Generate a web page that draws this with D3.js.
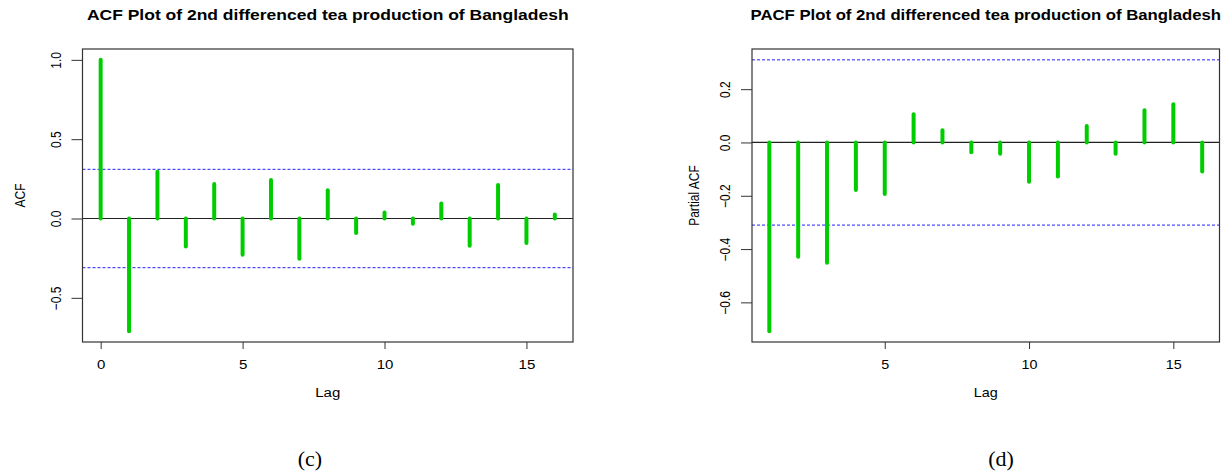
<!DOCTYPE html>
<html>
<head>
<meta charset="utf-8">
<script src="https://cdn.jsdelivr.net/npm/d3@7"></script>
<style>
  body { margin: 0; background: #fff; }
</style>
</head>
<body>
<div id="chart"></div>
<script>
// data
const acfLags   = [0, 1, 2, 3, 4, 5, 6, 7, 8, 9, 10, 11, 12, 13, 14, 15, 16];
const acfValues = [1.0, -0.71, 0.295, -0.176, 0.218, -0.228, 0.243, -0.253, 0.178,
                   -0.092, 0.038, -0.033, 0.094, -0.172, 0.211, -0.155, 0.025];

const pacfLags   = [1, 2, 3, 4, 5, 6, 7, 8, 9, 10, 11, 12, 13, 14, 15, 16];
const pacfValues = [-0.708, -0.429, -0.451, -0.178, -0.193, 0.106, 0.046, -0.037,
                    -0.042, -0.147, -0.128, 0.062, -0.042, 0.121, 0.143, -0.109];

const confLimit = 0.31;   // 1.96 / sqrt(n)

const acfXTicks  = [0, 5, 10, 15];
const acfYTicks  = [-0.5, 0.0, 0.5, 1.0];
const pacfXTicks = [5, 10, 15];
const pacfYTicks = [-0.6, -0.4, -0.2, 0.0, 0.2];

const SANS  = "'Liberation Sans', Arial, sans-serif";
const SERIF = "'Liberation Serif', 'Times New Roman', serif";

class CorrPlot {
  constructor(config) {
    this.config = {
      svg: config.svg,
      left: config.left, right: config.right,
      top: config.top || 49, bottom: config.bottom || 342,
      stretch: config.stretch || 1,        // the figure is widened horizontally
      title: config.title, ylabel: config.ylabel, ylabelOffset: config.ylabelOffset,
      caption: config.caption, captionX: config.captionX,
      xticks: config.xticks, yticks: config.yticks
    };
    this.init();
  }

  init() {
    const c = this.config, s = c.stretch;
    this.g = c.svg.append("g");
    this.xscale = d3.scaleLinear().range([c.left, c.right]);
    this.yscale = d3.scaleLinear().range([c.bottom, c.top]);

    const cx = (c.left + c.right) / 2;

    // title
    this.g.append("text")
      .attr("transform", `translate(${cx},20) scale(${s},1)`)
      .attr("text-anchor", "middle")
      .style("font-family", SANS)
      .style("font-size", "14px")
      .style("font-weight", "bold")
      .text(c.title);

    // x label
    this.g.append("text")
      .attr("transform", `translate(${cx},397) scale(${s},1)`)
      .attr("text-anchor", "middle")
      .style("font-family", SANS)
      .style("font-size", "12px")
      .text("Lag");

    // y label
    this.g.append("text")
      .attr("transform", `translate(${c.left - c.ylabelOffset},${(c.top + c.bottom) / 2}) scale(${s},1) rotate(-90)`)
      .attr("text-anchor", "middle")
      .style("font-family", SANS)
      .style("font-size", "12px")
      .text(c.ylabel);

    // caption
    this.g.append("text")
      .attr("x", c.captionX)
      .attr("y", 466)
      .attr("text-anchor", "middle")
      .style("font-family", SERIF)
      .style("font-size", "22px")
      .text(c.caption);

    this.xaxis = this.g.append("g").attr("transform", `translate(0,${c.bottom})`);
    this.yaxis = this.g.append("g").attr("transform", `translate(${c.left},0)`);
    this.marks = this.g.append("g");
  }

  update(lags, values) {
    this.lags = lags;
    this.values = values;
    // R style: data range widened by 4 %
    const xr = d3.extent(lags), xp = (xr[1] - xr[0]) * 0.04;
    this.xscale.domain([xr[0] - xp, xr[1] + xp]);
    const yr = d3.extent(values.concat([confLimit, -confLimit])), yp = (yr[1] - yr[0]) * 0.04;
    this.yscale.domain([yr[0] - yp, yr[1] + yp]);
    this.render();
  }

  render() {
    const c = this.config, x = this.xscale, y = this.yscale, s = c.stretch;
    const data = this.lags.map((d, i) => ({lag: d, value: this.values[i]}));

    // zero line
    this.marks.append("line")
      .attr("x1", c.left).attr("x2", c.right)
      .attr("y1", y(0)).attr("y2", y(0))
      .attr("stroke", "#222").attr("stroke-width", 1.2);

    // confidence bounds
    this.marks.selectAll("line.ci")
      .data([confLimit, -confLimit])
      .join("line")
      .attr("class", "ci")
      .attr("x1", c.left).attr("x2", c.right)
      .attr("y1", d => y(d)).attr("y2", d => y(d))
      .attr("stroke", "#2020ff").attr("stroke-width", 1)
      .attr("stroke-dasharray", "3,2");

    // spikes
    this.marks.selectAll("line.spike")
      .data(data)
      .join("line")
      .attr("class", "spike")
      .attr("x1", d => x(d.lag)).attr("x2", d => x(d.lag))
      .attr("y1", y(0)).attr("y2", d => y(d.value))
      .attr("stroke", "#00cd00").attr("stroke-width", 4)
      .attr("stroke-linecap", "round");

    // box
    this.marks.append("rect")
      .attr("x", c.left).attr("y", c.top)
      .attr("width", c.right - c.left).attr("height", c.bottom - c.top)
      .attr("fill", "none").attr("stroke", "#333").attr("stroke-width", 1.2);

    this.xaxis.call(d3.axisBottom(x).tickValues(c.xticks).tickSize(7).tickFormat(d3.format("d")));
    this.xaxis.select(".domain").remove();
    this.xaxis.selectAll(".tick line").attr("stroke", "#333");
    this.xaxis.selectAll(".tick text")
      .attr("y", 0).attr("dy", 0)
      .attr("transform", `translate(0,27) scale(${s},1)`)
      .style("font-size", "12px")
      .style("font-family", SANS)
      .attr("fill", "#000");

    this.yaxis.call(d3.axisLeft(y).tickValues(c.yticks).tickSize(11).tickFormat(d3.format(".1f")));
    this.yaxis.select(".domain").remove();
    this.yaxis.selectAll(".tick line").attr("stroke", "#333");
    this.yaxis.selectAll(".tick text")
      .attr("x", 0).attr("y", -22 / s).attr("dy", 0)
      .attr("transform", `scale(${s},1) rotate(-90)`)
      .attr("text-anchor", "middle")
      .style("font-size", "12px")
      .style("font-family", SANS)
      .attr("fill", "#000");
  }
}

const svg = d3.select("#chart")
  .append("svg")
  .attr("width", 1221)
  .attr("height", 475);

svg.append("rect").attr("width", 1221).attr("height", 475).attr("fill", "#fff");

const acfPlot = new CorrPlot({
  svg: svg, left: 82.5, right: 573, stretch: 1.25,
  title: "ACF Plot of 2nd differenced tea production of Bangladesh",
  ylabel: "ACF", ylabelOffset: 58, caption: "(c)", captionX: 310,
  xticks: acfXTicks, yticks: acfYTicks
});
acfPlot.update(acfLags, acfValues);

const pacfPlot = new CorrPlot({
  svg: svg, left: 752, right: 1219.5, stretch: 1.195,
  title: "PACF Plot of 2nd differenced tea production of Bangladesh",
  ylabel: "Partial ACF", ylabelOffset: 53, caption: "(d)", captionX: 1001,
  xticks: pacfXTicks, yticks: pacfYTicks
});
pacfPlot.update(pacfLags, pacfValues);
</script>
</body>
</html>
